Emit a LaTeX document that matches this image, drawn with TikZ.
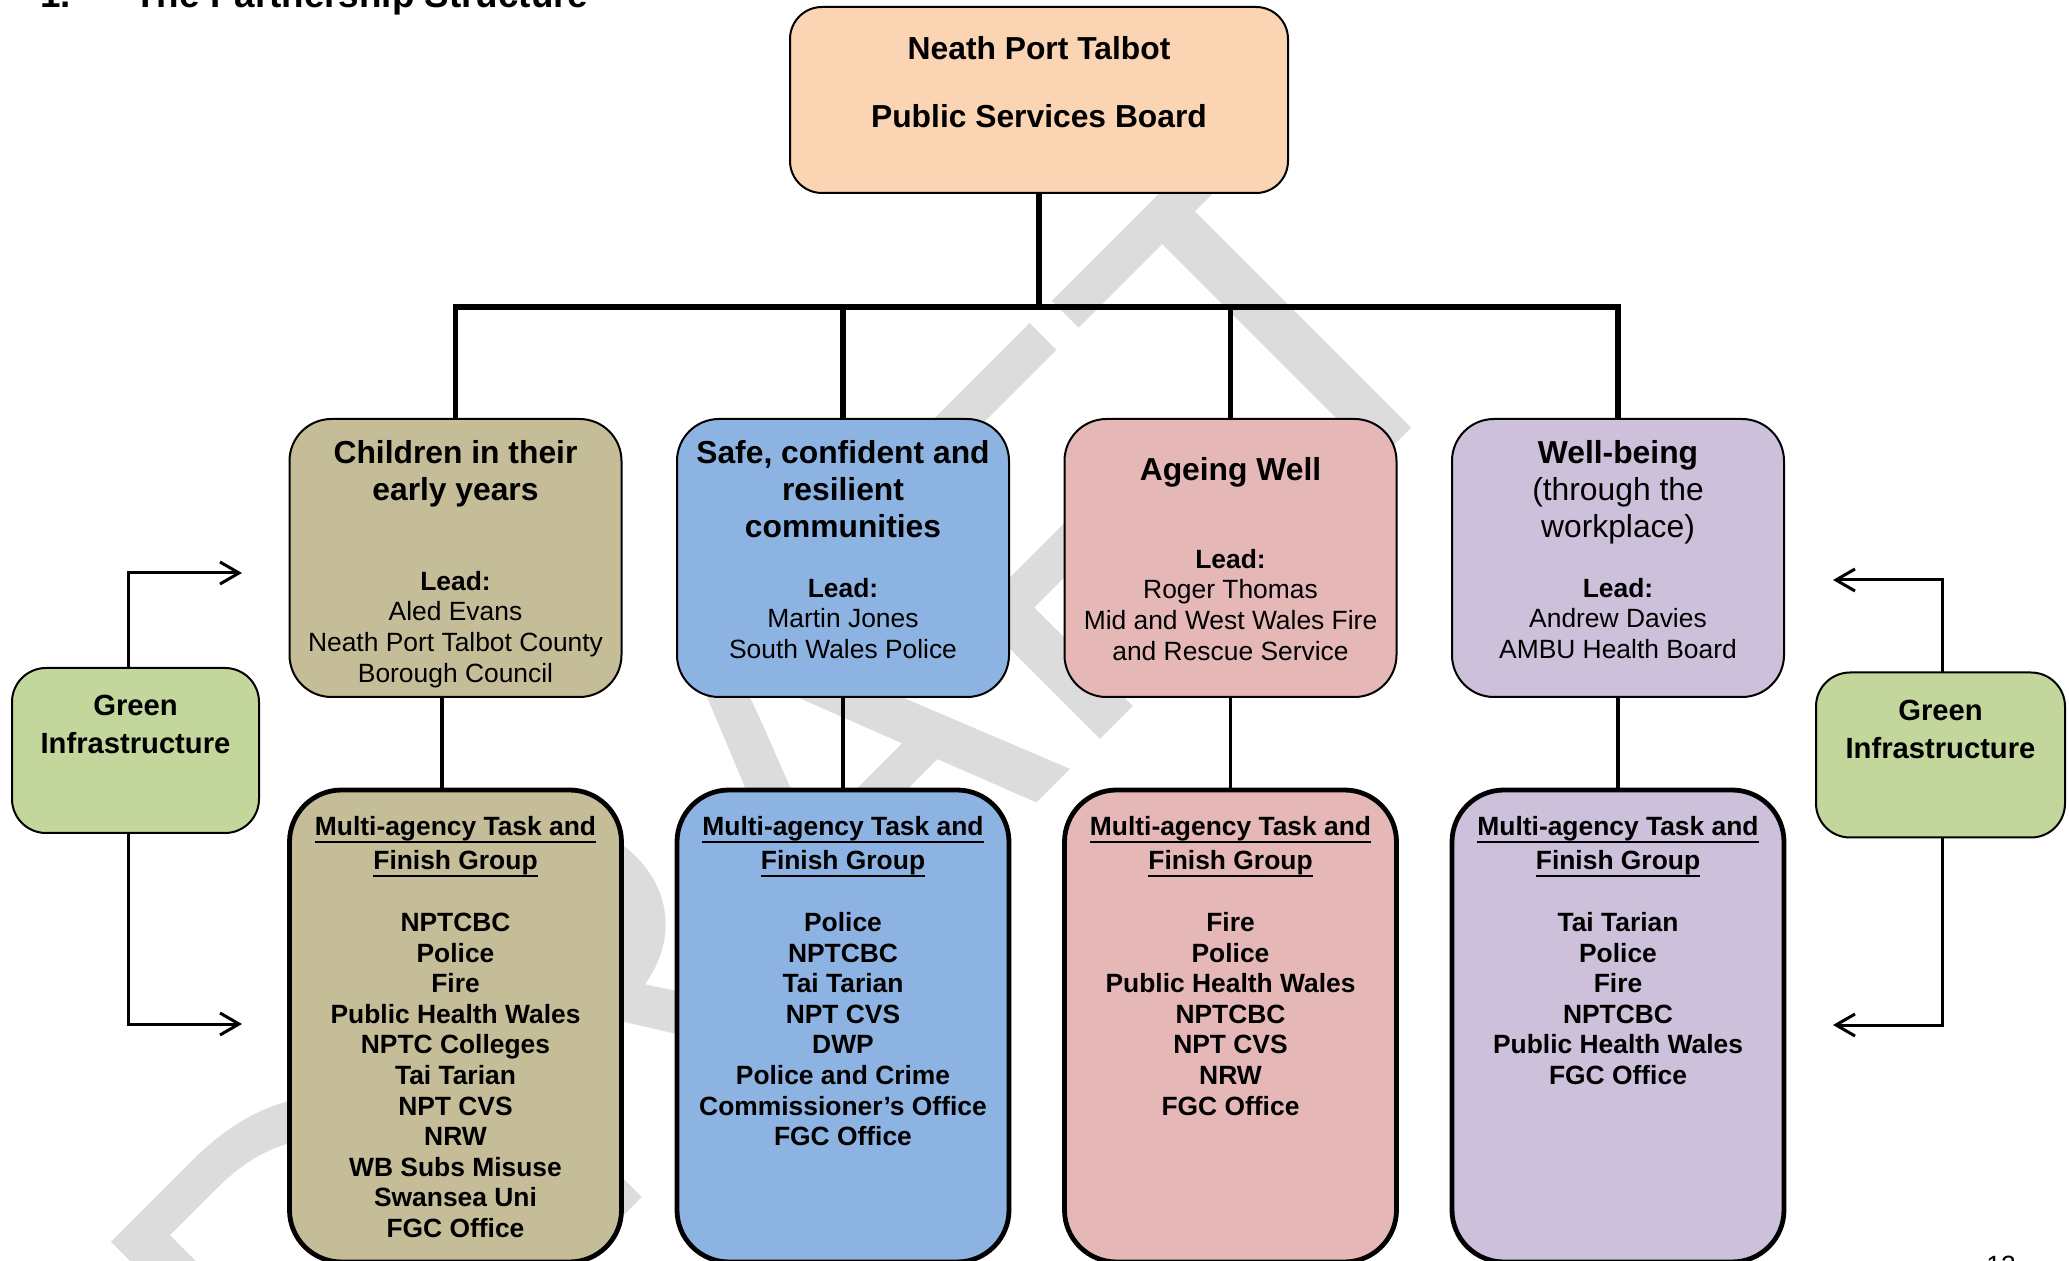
\documentclass[tikz,border=0pt]{standalone}
\usepackage{fontspec}
\setmainfont{Liberation Sans}
\usetikzlibrary{arrows.meta}
\definecolor{peach}{HTML}{FBD4B4}
\definecolor{tanbox}{HTML}{C4BD97}
\definecolor{skybox}{HTML}{8DB3E2}
\definecolor{rosebox}{HTML}{E5B8B7}
\definecolor{lilacbox}{HTML}{CCC0DA}
\definecolor{leafbox}{HTML}{C3D69B}
\definecolor{wmgray}{HTML}{DCDCDC}
\newcommand{\fl}{\rule{0pt}{14pt}}
\newsavebox{\ulinebox}
\newcommand{\myul}[1]{\sbox{\ulinebox}{#1}\rlap{\usebox{\ulinebox}}\rule[-3.6pt]{\wd\ulinebox}{1pt}}
\begin{document}
\begin{tikzpicture}[x=0.5pt,y=-0.5pt,
  topbox/.style={draw=black, line width=1pt, rounded corners=16pt, fill=peach,
    minimum width=249pt, minimum height=93pt, inner sep=0pt, outer sep=0pt},
  midbox/.style={draw=black, line width=1pt, rounded corners=21pt,
    minimum width=166pt, minimum height=139pt, inner sep=0pt, outer sep=0pt},
  taskbox/.style={draw=black, line width=2.4pt, rounded corners=26pt,
    minimum width=166pt, minimum height=236pt, inner sep=0pt, outer sep=0pt},
  greenbox/.style={draw=black, line width=1pt, rounded corners=17pt, fill=leafbox,
    minimum height=82.5pt, inner sep=0pt, outer sep=0pt},
  ttl/.style={font=\fontsize{15.9}{18.5}\selectfont, align=center, inner sep=0pt, anchor=north},
  body/.style={font=\fontsize{13.2}{15.3}\selectfont, align=center, inner sep=0pt, anchor=north},
  thead/.style={font=\fontsize{13.2}{17}\selectfont\bfseries, align=center, inner sep=0pt, anchor=north},
  tlist/.style={font=\fontsize{13.2}{15.3}\selectfont\bfseries, align=center, inner sep=0pt, anchor=north},
  gtext/.style={font=\fontsize{14.6}{19}\selectfont\bfseries, align=center, inner sep=0pt, anchor=north},
  bus/.style={line width=2.6pt, line join=miter},
  link/.style={line width=1.6pt},
  garrow/.style={line width=1.5pt, -{Straight Barb[length=9.5pt,width=11pt]}}
]
\useasboundingbox (0,0) rectangle (2069,1261);
\clip (0,0) rectangle (2069,1261);

% watermark
\node[font=\fontsize{250}{250}\selectfont, text=wmgray, rotate=45, anchor=base west, inner sep=0pt] (wm) at (325,1515) {DRAFT};

% heading (cut off at the top)
\node[font=\fontsize{18.4}{20}\selectfont\bfseries, anchor=base west, inner sep=0pt] (hnum) at (40,8) {1.};
\node[font=\fontsize{18.4}{20}\selectfont\bfseries, anchor=base west, inner sep=0pt] (htitle) at (134,8) {The Partnership Structure};

% top box
\node[topbox] (top) at (1039,100) {};
\node[ttl, font=\fontsize{15.9}{34}\selectfont\bfseries] (toptxt) at (1039,31) {\fl Neath Port Talbot\\Public Services Board};

% middle boxes
\node[midbox, fill=tanbox] (m1) at (455.5,558) {};
\node[midbox, fill=skybox] (m2) at (843,558) {};
\node[midbox, fill=rosebox] (m3) at (1230.5,558) {};
\node[midbox, fill=lilacbox] (m4) at (1618,558) {};

\node[ttl, font=\fontsize{15.9}{18.5}\selectfont\bfseries] (m1t) at (455.5,435) {\fl Children in their\\early years};
\node[body] (m1b) at (455.5,562) {\fl\textbf{Lead:}\\Aled Evans\\Neath Port Talbot County\\Borough Council};

\node[ttl, font=\fontsize{15.9}{18.5}\selectfont\bfseries] (m2t) at (843,435) {\fl Safe, confident and\\resilient\\communities};
\node[body] (m2b) at (843,569) {\fl\textbf{Lead:}\\Martin Jones\\South Wales Police};

\node[ttl, font=\fontsize{15.9}{18.5}\selectfont\bfseries] (m3t) at (1230.5,452) {\fl Ageing Well};
\node[body] (m3b) at (1230.5,540) {\fl\textbf{Lead:}\\Roger Thomas\\Mid and West Wales Fire\\and Rescue Service};

\node[ttl] (m4t) at (1618,435) {\fl\textbf{Well-being}\\(through the\\workplace)};
\node[body] (m4b) at (1618,569) {\fl\textbf{Lead:}\\Andrew Davies\\AMBU Health Board};

% task and finish boxes
\node[taskbox, fill=tanbox] (t1) at (455.5,1026) {};
\node[taskbox, fill=skybox] (t2) at (843,1026) {};
\node[taskbox, fill=rosebox] (t3) at (1230.5,1026) {};
\node[taskbox, fill=lilacbox] (t4) at (1618,1026) {};

\foreach \n/\x in {1/455.5,2/843,3/1230.5,4/1618}{
  \node[thead] (t\n h) at (\x,807) {\fl\myul{Multi-agency Task and}\\\myul{Finish Group}};
}
\node[tlist] (t1l) at (455.5,903) {\fl NPTCBC\\Police\\Fire\\Public Health Wales\\NPTC Colleges\\Tai Tarian\\NPT CVS\\NRW\\WB Subs Misuse\\Swansea Uni\\FGC Office};
\node[tlist] (t2l) at (843,903) {\fl Police\\NPTCBC\\Tai Tarian\\NPT CVS\\DWP\\Police and Crime\\Commissioner’s Office\\FGC Office};
\node[tlist] (t3l) at (1230.5,903) {\fl Fire\\Police\\Public Health Wales\\NPTCBC\\NPT CVS\\NRW\\FGC Office};
\node[tlist] (t4l) at (1618,903) {\fl Tai Tarian\\Police\\Fire\\NPTCBC\\Public Health Wales\\FGC Office};

% green infrastructure boxes
\node[greenbox, minimum width=123.5pt] (gl) at (135.5,750.5) {};
\node[gtext] (glt) at (135.5,687) {\fl Green\\Infrastructure};
\node[greenbox, minimum width=124.5pt] (gr) at (1940.5,755) {};
\node[gtext] (grt) at (1940.5,692) {\fl Green\\Infrastructure};

% connectors
\coordinate (busy) at (1039,307);
\draw[bus] (top.south) -- (top.south |- busy);
\draw[bus] (m1.north) -- (m1.north |- busy) -- (m4.north |- busy) -- (m4.north);
\draw[bus] (m2.north |- busy) -- (m2.north);
\draw[bus] (m3.north |- busy) -- (m3.north);

\draw[link] ([xshift=-6.75pt]m1.south) -- ([xshift=-6.75pt]t1.north);
\draw[link] (m2.south) -- (t2.north);
\draw[link] (m3.south) -- (t3.north);
\draw[link] (m4.south) -- (t4.north);

\coordinate (la1) at (242,573);
\coordinate (la2) at (242,1024);
\coordinate (ra1) at (1833,580);
\coordinate (ra2) at (1833,1025);
\draw[garrow] ([xshift=-3.75pt]gl.north) |- (la1);
\draw[garrow] ([xshift=-3.75pt]gl.south) |- (la2);
\draw[garrow] ([xshift=0.75pt]gr.north) |- (ra1);
\draw[garrow] ([xshift=0.75pt]gr.south) |- (ra2);

% page number (cut off at the bottom)
\node[font=\fontsize{13.2}{15}\selectfont, anchor=base west, inner sep=0pt] (pnum) at (1986,1274) {12};
\end{tikzpicture}
\end{document}
